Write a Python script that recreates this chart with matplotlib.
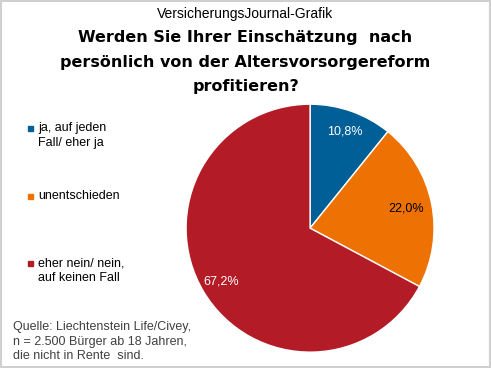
import numpy as np
import matplotlib.pyplot as plt
from matplotlib.patches import Rectangle

# data
labels = ["ja, auf jeden\nFall/ eher ja", "unentschieden", "eher nein/ nein,\nauf keinen Fall"]
values = [10.8, 22.0, 67.2]
colors = ["#005F96", "#EE7203", "#B31C27"]
label_colors = ["white", "black", "white"]

plt.rcParams['font.family'] = ['Liberation Sans', 'DejaVu Sans']

fig = plt.figure(figsize=(4.91, 3.68), dpi=100)

# light frame around the picture
fig.patches.append(Rectangle((0.002, 0.003), 0.995, 0.994, transform=fig.transFigure,
                             fill=False, edgecolor="#d0d0d0", linewidth=1.5))

ax = fig.add_axes([0.379, 0.043, 0.505, 0.674])
wedges, _ = ax.pie(values, colors=colors, startangle=90, counterclock=False,
                   wedgeprops=dict(edgecolor="white", linewidth=1))
ax.set_xlim(-1, 1)
ax.set_ylim(-1, 1)
ax.set_aspect("equal")

# percentage labels, placed at a radius fraction along each wedge middle
label_r = [0.83, 0.79, 0.84]
start = 90
for v, c, r in zip(values, label_colors, label_r):
    mid = start - v / 100 * 360 / 2
    start -= v / 100 * 360
    ang = np.deg2rad(mid)
    ax.text(r * np.cos(ang), r * np.sin(ang), f"{v:.1f}%".replace(".", ","),
            ha="center", va="center", color=c, fontsize=9)

# titles
fig.text(0.5, 0.962, "VersicherungsJournal-Grafik", ha="center", va="center", fontsize=10)
title_lines = ["Werden Sie Ihrer Einschätzung  nach",
               "persönlich von der Altersvorsorgereform",
               "profitieren?"]
for i, line in enumerate(title_lines):
    fig.text(0.5, 0.897 - i * 0.066, line, ha="center", va="center",
             fontsize=11.5, fontweight="bold", family="DejaVu Sans")

# legend
leg_y = [128 / 368, 196 / 368, 263 / 368]
for lab, col, y in zip(labels, colors, leg_y):
    fig.patches.append(Rectangle((28 / 491, 1 - y - 3 / 368), 5 / 491, 5 / 368,
                                 transform=fig.transFigure, color=col))
    fig.text(38 / 491, 1 - y + 6 / 368, lab, ha="left", va="top", fontsize=9,
             linespacing=1.3)

# source
fig.text(13 / 491, 1 - 321 / 368,
         "Quelle: Liechtenstein Life/Civey,\nn = 2.500 Bürger ab 18 Jahren,\ndie nicht in Rente  sind.",
         ha="left", va="top", fontsize=9, color="#404040", linespacing=1.3)

fig.savefig("out.png", dpi=100)
